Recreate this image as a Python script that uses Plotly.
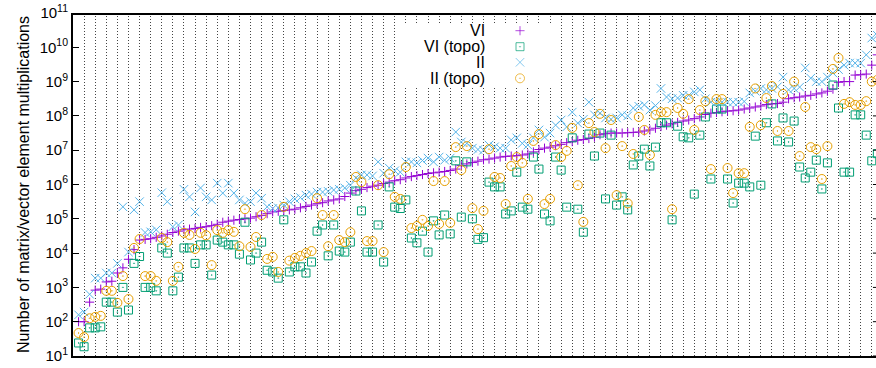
import plotly.graph_objects as go

# benchmark index (sorted by VI count)
bench = list(range(1, 146))

# log10 of the number of matrix/vector element multiplications
vi_log10 = [
    2.0, 2.0, 2.57, 2.92, 2.95, 3.16, 3.18, 3.42, 3.57, 3.82,
    4.1, 4.38, 4.4, 4.42, 4.46, 4.5, 4.55, 4.6, 4.64, 4.68,
    4.7, 4.72, 4.75, 4.77, 4.8, 4.84, 4.9, 4.93, 4.96, 4.98,
    5.0, 5.02, 5.06, 5.1, 5.15, 5.2, 5.22, 5.24, 5.26, 5.28,
    5.32, 5.36, 5.4, 5.44, 5.47, 5.52, 5.55, 5.58, 5.65, 5.75,
    5.82, 5.86, 5.91, 5.95, 5.98, 6.03, 6.07, 6.11, 6.14, 6.19,
    6.23, 6.26, 6.29, 6.32, 6.34, 6.36, 6.38, 6.41, 6.45, 6.55,
    6.6, 6.64, 6.68, 6.72, 6.74, 6.77, 6.8, 6.82, 6.83, 6.84,
    6.86, 6.89, 6.95, 7.02, 7.06, 7.09, 7.13, 7.17, 7.22, 7.25,
    7.29, 7.31, 7.34, 7.38, 7.45, 7.48, 7.5, 7.5, 7.5, 7.51,
    7.52, 7.53, 7.56, 7.59, 7.64, 7.69, 7.73, 7.77, 7.81, 7.85,
    7.88, 7.92, 7.97, 8.04, 8.08, 8.1, 8.12, 8.14, 8.15, 8.17,
    8.2, 8.23, 8.26, 8.29, 8.33, 8.35, 8.36, 8.4, 8.5, 8.53,
    8.55, 8.58, 8.6, 8.64, 8.67, 8.72, 8.78, 8.98, 9.0, 9.0,
    9.19, 9.2, 9.22, 9.48, 9.78,
]

vi_topo_log10 = [
    1.38, 1.27, 1.82, 1.82, 1.85, 2.57, 2.57, 2.28, 3.0, 2.34,
    3.7, 3.9, 3.0, 3.0, 2.9, 4.15, 4.0, 2.9, 3.3, 4.15,
    4.15, 3.7, 4.24, 4.24, 3.36, 4.38, 4.32, 4.24, 4.24, 3.97,
    4.9, 3.8, 4.0, 4.32, 3.5, 3.45, 3.27, 4.97, 3.45, 3.6,
    3.6, 3.42, 3.74, 4.64, 4.82, 3.92, 4.82, 4.06, 4.03, 4.32,
    5.81, 5.23, 4.03, 4.03, 4.82, 3.74, 5.93, 5.34, 5.3, 5.55,
    4.44, 4.3, 4.64, 4.03, 4.94, 4.53, 5.11, 4.56, 6.69, 5.05,
    6.66, 5.0, 4.4, 4.45, 6.07, 5.93, 5.93, 5.14, 5.23, 6.36,
    5.34, 5.28, 6.8, 6.45, 5.14, 4.94, 6.8, 6.42, 5.34, 7.36,
    5.28, 4.61, 7.47, 6.83, 7.5, 5.58, 7.44, 5.4, 5.64, 5.26,
    6.57, 6.83, 7.03, 6.54, 7.09, 7.8, 7.8, 4.97, 7.7, 7.39,
    7.36, 5.72, 7.44, 7.97, 6.16, 8.2, 8.2, 6.16, 5.46, 6.04,
    6.04, 5.93, 7.41, 5.98, 7.8, 8.35, 7.27, 7.94, 7.24, 7.85,
    6.51, 6.19, 6.36, 6.71, 5.87, 6.63, 8.9, 8.23, 6.36, 6.36,
    8.03, 8.03, 7.44, 6.69, 6.9,
]

ii_log10 = [
    2.2, 2.28, 2.8, 3.27, 3.27, 3.42, 3.42, 3.7, 5.35, 4.03,
    5.26, 5.5, 4.6, 4.62, 4.68, 5.76, 5.5, 4.77, 4.82, 5.86,
    5.64, 5.2, 5.9, 5.64, 5.55, 6.04, 5.75, 6.04, 5.75, 5.55,
    5.45, 5.5, 5.75, 5.6, 5.35, 5.3, 5.32, 5.4, 5.5, 5.58,
    5.62, 5.69, 5.72, 5.78, 5.78, 5.8, 5.84, 5.86, 5.9, 5.98,
    6.19, 6.28, 6.28, 6.25, 6.66, 6.33, 6.48, 6.4, 6.36, 6.66,
    6.66, 6.63, 6.7, 6.77, 6.66, 6.8, 6.71, 6.77, 7.53, 7.24,
    7.2, 7.06, 7.02, 7.0, 7.15, 7.1, 7.06, 7.06, 7.3, 7.36,
    7.2, 7.15, 7.36, 7.59, 7.38, 7.5, 7.73, 7.88, 7.68, 8.11,
    7.79, 7.9, 8.4, 8.03, 8.08, 7.94, 7.9, 7.94, 8.03, 8.0,
    8.23, 8.28, 8.32, 8.17, 8.3, 8.8, 8.55, 8.5, 8.52, 8.6,
    8.6, 8.7, 8.76, 8.5, 8.4, 8.4, 8.4, 8.4, 8.4, 8.4,
    8.42, 8.67, 8.72, 8.8, 8.76, 8.8, 8.85, 9.13, 8.76, 8.8,
    8.84, 9.4, 9.1, 9.0, 9.0, 9.13, 9.25, 9.35, 9.48, 9.54,
    9.54, 9.54, 9.78, 10.27, 10.35,
]

ii_topo_log10 = [
    1.67, 1.55, 2.1, 2.14, 2.17, 2.9, 2.9, 2.55, 3.33, 2.66,
    4.15, 4.41, 3.33, 3.33, 3.19, 4.44, 4.32, 3.19, 3.6, 4.59,
    4.53, 4.12, 4.59, 4.52, 3.65, 4.67, 4.59, 4.67, 4.62, 4.2,
    5.28, 4.18, 4.47, 5.11, 3.83, 3.89, 3.45, 5.35, 3.78, 3.86,
    3.92, 4.0, 4.06, 5.6, 5.11, 4.2, 5.11, 4.38, 4.32, 4.61,
    6.22, 6.07, 4.35, 4.35, 5.98, 4.03, 6.3, 5.64, 5.58, 6.51,
    4.73, 4.79, 4.97, 4.79, 6.1, 4.85, 6.1, 4.88, 7.09, 6.42,
    7.12, 5.31, 4.7, 5.23, 7.03, 6.22, 6.19, 5.43, 6.54, 6.8,
    6.63, 5.58, 7.27, 7.47, 5.43, 5.58, 7.15, 6.8, 6.98, 7.65,
    5.98, 4.91, 7.79, 7.53, 8.06, 7.06, 7.88, 5.69, 7.12, 5.45,
    6.89, 7.97, 7.59, 6.86, 8.03, 8.11, 8.11, 5.28, 8.23, 8.06,
    8.49, 7.59, 8.17, 8.43, 6.45, 8.49, 8.49, 6.48, 5.75, 6.33,
    6.33, 7.68, 8.8, 7.73, 8.52, 8.87, 7.56, 8.64, 7.56, 9.0,
    6.83, 8.26, 7.09, 7.03, 6.16, 7.12, 9.37, 9.69, 8.35, 8.4,
    8.32, 8.32, 8.43, 9.0, 9.05,
]

# y tick decades 10^1 .. 10^11
tick_exponents = list(range(1, 12))

series_names = ["VI", "VI (topo)", "II", "II (topo)"]
series_data = [vi_log10, vi_topo_log10, ii_log10, ii_topo_log10]
series_colors = ["#9400D3", "#009E73", "#56B4E9", "#E69F00"]
series_symbols = ["cross-thin-open", "square-open-dot", "x-thin-open", "circle-open-dot"]
series_sizes = [6.5, 8, 8.5, 9]

X_MAX = 144.76
FONT = "Liberation Sans, Arial, sans-serif"

fig = go.Figure()
for name, vals, col, sym, sz in zip(series_names, series_data, series_colors,
                                     series_symbols, series_sizes):
    fig.add_trace(go.Scatter(
        x=bench, y=[10 ** v for v in vals], mode="markers", name=name,
        showlegend=False,
        marker=dict(symbol=sym, size=sz, color=col,
                    line=dict(color=col, width=1)),
    ))

# top border of the frame
fig.add_trace(go.Scatter(
    x=[0, X_MAX], y=[10 ** 11, 10 ** 11], mode="lines", showlegend=False,
    hoverinfo="skip", line=dict(color="black", width=4),
))

# right-hand mirrored tick marks (the border itself lies just outside the picture)
rt_x, rt_y = [], []
for k in tick_exponents:
    rt_x += [X_MAX - 0.55, X_MAX, None]
    rt_y += [10 ** k, 10 ** k, None]
fig.add_trace(go.Scatter(
    x=rt_x, y=rt_y, mode="lines", showlegend=False, hoverinfo="skip",
    line=dict(color="black", width=1),
))

# key (legend) on a pixel-like overlay axis: white box, text right-aligned, symbol on the right
fig.add_trace(go.Scatter(
    x=[325, 482, 482, 325, 325], y=[10, 10, 73, 73, 10], mode="lines",
    fill="toself", fillcolor="white", line=dict(width=0, color="white"),
    xaxis="x2", yaxis="y2", showlegend=False, hoverinfo="skip",
))
key_rows_y = [17.7, 33.7, 49.3, 65.3]
fig.add_trace(go.Scatter(
    x=[447] * 4, y=key_rows_y, mode="markers", xaxis="x2", yaxis="y2",
    showlegend=False, hoverinfo="skip",
    marker=dict(symbol=series_symbols, size=series_sizes, color=series_colors,
                line=dict(color=series_colors, width=1)),
))
for name, yy in zip(series_names, key_rows_y):
    fig.add_annotation(x=414, y=yy, xref="x2", yref="y2", text=name,
                       showarrow=False, xanchor="right", yanchor="middle",
                       font=dict(family=FONT, size=16, color="black"))

fig.update_layout(
    width=876, height=368,
    margin=dict(l=73, r=0, t=13, b=12),
    paper_bgcolor="white", plot_bgcolor="white",
    font=dict(family=FONT, size=16, color="black"),
    xaxis=dict(range=[0, X_MAX], tick0=0, dtick=2, showticklabels=False,
               ticks="", showgrid=True, gridcolor="#444", gridwidth=1,
               griddash="1px,2px", zeroline=False, showline=True,
               linecolor="black", linewidth=2, mirror=False),
    yaxis=dict(type="log", range=[1, 11],
               tickvals=[10 ** k for k in tick_exponents],
               ticktext=["10<sup>%d</sup>" % k for k in tick_exponents],
               ticks="inside", ticklen=6, tickwidth=1, tickcolor="black",
               showgrid=False, zeroline=False, showline=True,
               linecolor="black", linewidth=2, mirror=False,
               tickfont=dict(family=FONT, size=15),
               title=dict(text="Number of matrix/vector element multiplications",
                          font=dict(family=FONT, size=16), standoff=6)),
    xaxis2=dict(overlaying="x", range=[0, 803], visible=False),
    yaxis2=dict(overlaying="y", range=[343, 0], visible=False),
)

# remove the default 8px page margin so the figure fills the window exactly
fig.write_html("out.html",
               config={"displayModeBar": False, "staticPlot": True},
               post_script="document.body.style.margin='0';"
                           "document.body.style.overflow='hidden';")
